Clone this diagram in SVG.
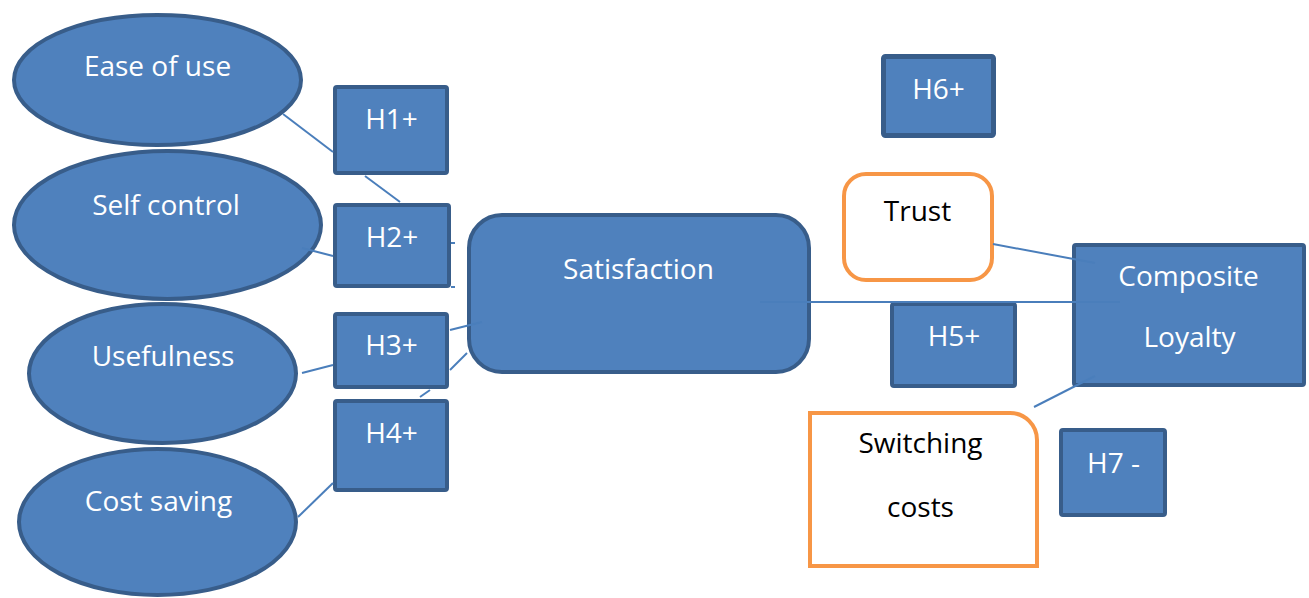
<svg xmlns="http://www.w3.org/2000/svg" width="1309" height="598" viewBox="0 0 1309 598">
<style>
.b{fill:#4F81BD;stroke:#385D8A;stroke-width:4;stroke-linejoin:round}
.o{fill:#FFFFFF;stroke:#F79646;stroke-width:4}
.t{font-family:"Open Sans","Liberation Sans",sans-serif;font-size:28px;text-anchor:middle;fill:#FFFFFF}
.k{fill:#000000}
.c line{stroke:#4A7EBB;stroke-width:2;fill:none}
</style>
<rect width="1309" height="598" fill="#FFFFFF"/>
<g id="ease-of-use"><ellipse class="b" cx="157.5" cy="80" rx="143.5" ry="65"/><text class="t" x="157.5" y="76">Ease of use</text></g>
<g id="self-control"><ellipse class="b" cx="167.5" cy="225" rx="153.5" ry="74"/><text class="t" x="166" y="215">Self control</text></g>
<g id="usefulness"><ellipse class="b" cx="162.5" cy="373.5" rx="133.5" ry="69.5"/><text class="t" x="163" y="366">Usefulness</text></g>
<g id="cost-saving"><ellipse class="b" cx="157.5" cy="522" rx="138.5" ry="73"/><text class="t" x="158.5" y="511">Cost saving</text></g>
<g id="h1"><rect class="b" x="335" y="87" width="112" height="86" rx="2"/><text class="t" x="391.5" y="129">H1+</text></g>
<g id="h2"><rect class="b" x="335" y="205" width="114" height="81" rx="2"/><text class="t" x="392" y="247">H2+</text></g>
<g id="h3"><rect class="b" x="335" y="314" width="112" height="73" rx="2"/><text class="t" x="391.5" y="355">H3+</text></g>
<g id="h4"><rect class="b" x="335" y="401" width="112" height="89" rx="2"/><text class="t" x="391.5" y="443">H4+</text></g>
<g id="satisfaction"><rect class="b" x="469" y="215" width="340" height="157" rx="33"/><text class="t" x="638.5" y="279">Satisfaction</text></g>
<g id="h6"><rect class="b" x="883.5" y="56.5" width="110" height="79" rx="2" style="stroke-width:5"/><text class="t" x="938.5" y="99">H6+</text></g>
<g id="trust"><rect class="o" x="844" y="174" width="148" height="106" rx="22"/><text class="t k" x="917.5" y="221">Trust</text></g>
<g id="h5"><rect class="b" x="892" y="304" width="123" height="82" rx="2"/><text class="t" x="954" y="346">H5+</text></g>
<g id="composite-loyalty"><rect class="b" x="1074" y="245" width="230" height="140" rx="2"/><text class="t" x="1188.5" y="286">Composite</text><text class="t" x="1189.5" y="347">Loyalty</text></g>
<g id="switching-costs"><path class="o" d="M810,413 H1010 A27,27 0 0 1 1037,440 V566 H810 Z"/><text class="t k" x="920.5" y="453">Switching</text><text class="t k" x="920.5" y="517">costs</text></g>
<g id="h7"><rect class="b" x="1061" y="430" width="104" height="85" rx="2"/><text class="t" x="1113.5" y="473">H7 -</text></g>
<g id="connectors" class="c">
<line x1="283" y1="114" x2="333" y2="152"/>
<line x1="365" y1="176" x2="400" y2="202"/>
<line x1="302" y1="248" x2="333" y2="256"/>
<line x1="451" y1="243" x2="455" y2="243"/>
<line x1="451" y1="287" x2="455" y2="287"/>
<line x1="302" y1="373" x2="333" y2="365"/>
<line x1="298" y1="517" x2="333" y2="483"/>
<line x1="450" y1="330" x2="482" y2="322"/>
<line x1="450" y1="370" x2="467" y2="353"/>
<line x1="420" y1="397" x2="430" y2="390"/>
<line x1="760" y1="302" x2="1120" y2="302"/>
<line x1="993" y1="244" x2="1095" y2="263"/>
<line x1="1095" y1="376" x2="1034" y2="407"/>
</g>
</svg>
